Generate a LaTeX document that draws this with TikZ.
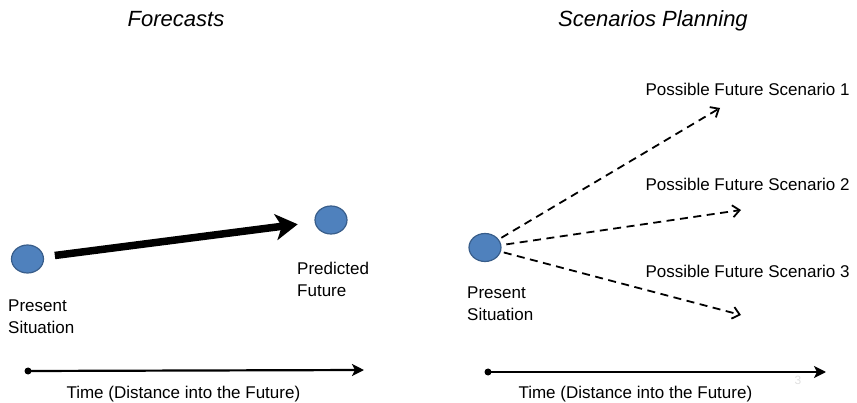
\documentclass[tikz,border=0pt]{standalone}
\usepackage{fontspec}
\setmainfont{Liberation Sans}
\usetikzlibrary{arrows.meta,shapes.geometric}
\definecolor{ballfill}{HTML}{4F81BD}
\definecolor{balledge}{HTML}{385D8A}
\tikzset{
  ball/.style={ellipse,fill=ballfill,draw=balledge,line width=1.2pt,inner sep=0pt,minimum width=32pt,minimum height=28pt},
  tdot/.style={circle,fill=black,inner sep=0pt,minimum size=7pt},
  title/.style={font=\fontsize{22}{26}\selectfont\itshape,anchor=base},
  lbl/.style={font=\fontsize{17}{22}\selectfont,anchor=base west},
  lbl2/.style={font=\fontsize{17}{22}\selectfont,align=left,anchor=north west,inner sep=0pt},
  timeline/.style={line width=2.2pt,-{Stealth[length=12pt,width=12pt,inset=3pt]}},
  dasharrow/.style={line width=1.8pt,dash pattern=on 8pt off 5.5pt,-{Straight Barb[length=7pt,width=12pt]}},
}
\begin{document}
\begin{tikzpicture}[x=1pt,y=-1pt]
\path[use as bounding box] (0,0) rectangle (857,403);

% titles
\node[title] (t1) at (176,27) {Forecasts};
\node[title] (t2) at (653,27) {Scenarios Planning};

% left: forecasts
\node[ball] (p1) at (27.5,259) {};
\node[ball] (p2) at (331,220) {};
\draw[line width=7.5pt,-{Stealth[length=22pt,width=26pt,inset=6pt]},shorten <=11pt,shorten >=17pt] (p1) -- (p2);
\node[lbl2] (pl1) at (8,300) {Present\\Situation};
\node[lbl2] (pl2) at (297,262) {Predicted\\Future};

\node[tdot] (a1) at (28,371) {};
\coordinate (a1e) at (364,370);
\draw[timeline] (a1.center) -- (a1e);
\node[lbl] (tm1) at (63,399) {Time (Distance into the Future)};

% right: scenarios
\node[ball] (q) at (485,247.5) {};
\coordinate (s1) at (720,108);
\coordinate (s2) at (741,210);
\coordinate (s3) at (741,315);
\draw[dasharrow,shorten <=3pt] (q) -- (s1);
\draw[dasharrow,shorten <=5pt] (q) -- (s2);
\draw[dasharrow,shorten <=3pt] (q) -- (s3);
\node[lbl] (l1) at (642,96) {Possible Future Scenario 1};
\node[lbl] (l2) at (642,191) {Possible Future Scenario 2};
\node[lbl] (l3) at (642,278) {Possible Future Scenario 3};
\node[lbl2] (ql) at (467,287) {Present\\Situation};

\node[tdot] (a2) at (488,372) {};
\coordinate (a2e) at (826,372);
\draw[timeline] (a2.center) -- (a2e);
\node[lbl] (tm2) at (515,399) {Time (Distance into the Future)};

\node[font=\fontsize{12}{14}\selectfont,text=black!12] (pg) at (798,380) {3};
\end{tikzpicture}
\end{document}
